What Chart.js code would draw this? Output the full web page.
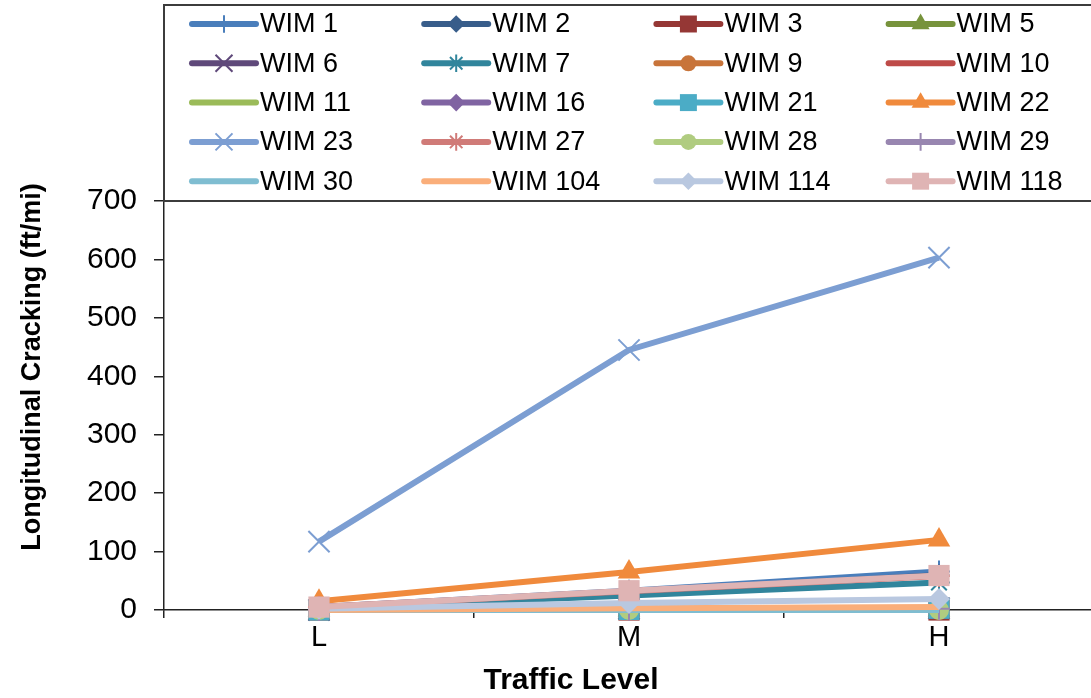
<!DOCTYPE html>
<html>
<head>
<meta charset="utf-8">
<title>Longitudinal Cracking by Traffic Level</title>
<script src="https://cdn.jsdelivr.net/npm/chart.js"></script>
<style>
  html, body { margin: 0; padding: 0; background: #fff; overflow: hidden; }
  #wrap { width: 1091px; height: 698px; overflow: hidden; position: relative; }
  canvas { display: block; }
</style>
</head>
<body>
<div id="wrap"><canvas id="chart" width="1111" height="698"></canvas></div>
<script>
// Traffic levels on the x axis
const categories = ['L', 'M', 'H'];

// Longitudinal cracking (ft/mi) per WIM site at each traffic level
const wim1   = [5, 33, 66];
const wim2   = [3, 29, 60];
const wim3   = [0, 0, 0];
const wim5   = [0, 0, 0];
const wim6   = [0, 2, 3];
const wim7   = [3, 25, 47];
const wim9   = [0, 0, 0];
const wim10  = [0, 0, 0];
const wim11  = [0, 0, 0];
const wim16  = [0, 1, 2];
const wim21  = [0, 1, 3];
const wim22  = [15, 65, 120];
const wim23  = [117, 445, 603];
const wim27  = [5, 32, 58];
const wim28  = [0, 0, 0];
const wim29  = [0, 1, 2];
const wim30  = [0, 0, 0];
const wim104 = [0, 3, 5];
const wim114 = [2, 12, 19];
const wim118 = [5, 33, 59];

const seriesNames = ['WIM 1', 'WIM 2', 'WIM 3', 'WIM 5', 'WIM 6', 'WIM 7', 'WIM 9', 'WIM 10',
  'WIM 11', 'WIM 16', 'WIM 21', 'WIM 22', 'WIM 23', 'WIM 27', 'WIM 28', 'WIM 29',
  'WIM 30', 'WIM 104', 'WIM 114', 'WIM 118'];
const seriesValues = [wim1, wim2, wim3, wim5, wim6, wim7, wim9, wim10,
  wim11, wim16, wim21, wim22, wim23, wim27, wim28, wim29,
  wim30, wim104, wim114, wim118];

// Y axis tick values
const yTicks = [0, 100, 200, 300, 400, 500, 600, 700];

// Line colour, marker shape and marker radius for each series
const seriesColors = ['#4A7EBB', '#385D8A', '#953735', '#77933C', '#5F497A', '#31859C', '#C8743A', '#BE4B48',
  '#9BBB59', '#8064A2', '#4BACC6', '#F08A3C', '#7C9ED2', '#D07B78', '#B0CC80', '#9886B0',
  '#7FBDD1', '#FAAE7A', '#B9C8E0', '#DFB4B4'];
const seriesMarkers = ['cross', 'rectRot', 'rect', 'triangle', 'crossRot', 'star', 'circle', false,
  'line', 'rectRot', 'rect', 'triangle', 'crossRot', 'star', 'circle', 'cross',
  false, false, 'rectRot', 'rect'];
const markerRadius = { cross: 11, rectRot: 11, rect: 15, triangle: 13, crossRot: 15, star: 11, circle: 10, line: 9 };
const strokedMarkers = ['cross', 'crossRot', 'star', 'line'];

const datasets = seriesNames.map((name, i) => {
  const style = seriesMarkers[i];
  const stroked = strokedMarkers.includes(style);
  return {
    label: name,
    data: seriesValues[i],
    borderColor: seriesColors[i],
    backgroundColor: seriesColors[i],
    borderWidth: 6,
    pointStyle: style || 'circle',
    pointRadius: style ? markerRadius[style] : 0,
    pointHoverRadius: style ? markerRadius[style] : 0,
    pointBorderWidth: stroked ? 2 : 0,
    pointBackgroundColor: seriesColors[i],
    pointBorderColor: seriesColors[i],
    tension: 0,
    clip: false,
    // later series are painted over earlier ones
    order: seriesNames.length - i
  };
});

const FONT = "'Liberation Sans', Arial, sans-serif";

// Boxed four-column legend above the plot
const legendGrid = {
  id: 'legendGrid',
  afterDraw(chart) {
    const ctx = chart.ctx;
    const left = chart.chartArea.left;
    const top = 5;
    const bottom = chart.chartArea.top;
    ctx.save();
    ctx.fillStyle = '#ffffff';
    ctx.fillRect(left, top, 1200, bottom - top);
    ctx.strokeStyle = '#3c3c3c';
    ctx.lineWidth = 2;
    ctx.strokeRect(left, top, 1200, bottom - top);

    chart.data.datasets.forEach((ds, i) => {
      const col = i % 4;
      const row = Math.floor(i / 4);
      const x0 = 192 + col * 232.2;
      const y = 24 + row * 39.3;
      ctx.strokeStyle = ds.borderColor;
      ctx.fillStyle = ds.borderColor;
      ctx.lineWidth = 6;
      ctx.lineCap = 'round';
      ctx.beginPath();
      ctx.moveTo(x0, y);
      ctx.lineTo(x0 + 64, y);
      ctx.stroke();
      ctx.lineCap = 'butt';
      if (ds.pointRadius > 0) {
        ctx.lineWidth = ds.pointBorderWidth;
        Chart.helpers.drawPoint(ctx, {
          pointStyle: ds.pointStyle,
          radius: ds.pointRadius * 0.8,
          rotation: 0,
          borderWidth: ds.pointBorderWidth
        }, x0 + 32, y);
      }
      ctx.fillStyle = '#000000';
      ctx.font = '27px ' + FONT;
      ctx.textAlign = 'left';
      ctx.textBaseline = 'middle';
      ctx.fillText(ds.label, x0 + 68, y + 1);
    });
    ctx.restore();
  }
};

// Bold axis titles
const axisTitles = {
  id: 'axisTitles',
  afterDraw(chart) {
    const ctx = chart.ctx;
    ctx.save();
    ctx.fillStyle = '#000000';
    ctx.textAlign = 'center';
    ctx.textBaseline = 'middle';
    ctx.font = 'bold 30px ' + FONT;
    ctx.fillText('Traffic Level', 571, 681);
    ctx.font = 'bold 27px ' + FONT;
    ctx.translate(33, 367);
    ctx.rotate(-Math.PI / 2);
    ctx.fillText('Longitudinal Cracking (ft/mi)', 0, 0);
    ctx.restore();
  }
};

new Chart(document.getElementById('chart'), {
  type: 'line',
  data: { labels: categories, datasets: datasets },
  options: {
    responsive: false,
    animation: false,
    devicePixelRatio: 1,
    layout: { padding: { top: 201, right: 7, bottom: 0, left: 0 } },
    plugins: {
      legend: { display: false },
      tooltip: { enabled: false }
    },
    scales: {
      x: {
        type: 'category',
        offset: true,
        grid: { offset: true, drawOnChartArea: false, drawTicks: true, tickLength: 8, color: '#222', lineWidth: 1.5 },
        border: { display: true, color: '#222', width: 1.5 },
        ticks: { color: '#000', font: { family: FONT, size: 29 }, padding: 3 },
        afterFit(scale) { scale.height = 88; }
      },
      y: {
        min: 0,
        max: 700,
        afterBuildTicks(scale) { scale.ticks = yTicks.map(v => ({ value: v })); },
        grid: { drawOnChartArea: false, drawTicks: true, tickLength: 10, color: '#222', lineWidth: 1.5 },
        border: { display: true, color: '#222', width: 1.5 },
        ticks: { color: '#000', font: { family: FONT, size: 30 }, padding: 17 },
        afterFit(scale) { scale.width = 164; }
      }
    }
  },
  plugins: [legendGrid, axisTitles]
});
</script>
</body>
</html>
